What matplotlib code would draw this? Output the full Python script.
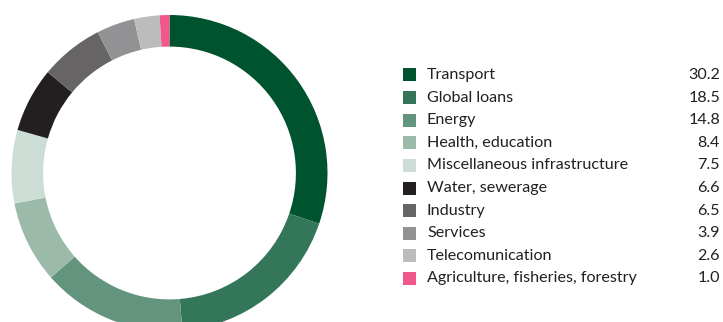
import matplotlib.pyplot as plt
from matplotlib.patches import Rectangle

sectors = ["Transport", "Global loans", "Energy", "Health, education",
           "Miscellaneous infrastructure", "Water, sewerage", "Industry",
           "Services", "Telecomunication", "Agriculture, fisheries, forestry"]
shares = [30.2, 18.5, 14.8, 8.4, 7.5, 6.6, 6.5, 3.9, 2.6, 1.0]
colors = ["#00532F", "#33765A", "#63957E", "#9BBAAA", "#CCDDD5",
          "#231F20", "#666465", "#929193", "#BCBCBD", "#F0588A"]

W, H = 723, 322
fig = plt.figure(figsize=(W / 100, H / 100), dpi=100)
plt.rcParams['font.family'] = ['Lato', 'DejaVu Sans']

# donut, centre ~ (169.5, 173) px from top-left, radius ~158 px
cx, cy, r = 169.5, 173, 158
ax = fig.add_axes([(cx - r) / W, (H - cy - r) / H, 2 * r / W, 2 * r / H])
ax.pie(shares, colors=colors, startangle=90, counterclock=False,
       wedgeprops={'width': 0.2, 'edgecolor': 'none', 'linewidth': 0})
ax.set_xlim(-1, 1)
ax.set_ylim(-1, 1)
ax.axis('off')

# legend, drawn by hand
y0, dy = 75, 22.6
txt_col = "#231F20"
for i, (name, val, col) in enumerate(zip(sectors, shares, colors)):
    y = y0 + i * dy
    fig.add_artist(Rectangle((403 / W, (H - y - 6.5) / H), 13 / W, 13 / H,
                             transform=fig.transFigure, color=col, lw=0))
    fig.text(427 / W, (H - y) / H, name, va='center', ha='left',
             fontsize=11.6, color=txt_col)
    fig.text(720 / W, (H - y) / H, f"{val:.1f}", va='center', ha='right',
             fontsize=11.6, color=txt_col)

fig.savefig("out.png", dpi=100)
